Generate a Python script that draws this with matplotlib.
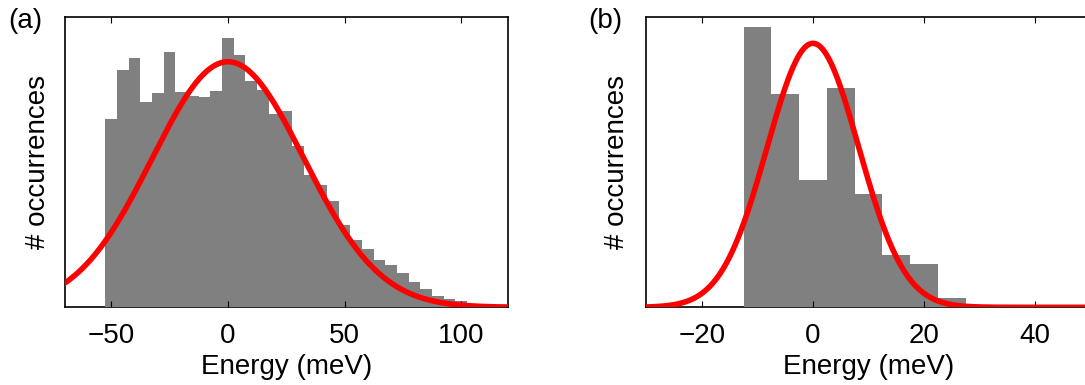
import numpy as np
import matplotlib
matplotlib.use("Agg")
import matplotlib.pyplot as plt

plt.rcParams['font.family'] = ['Liberation Sans', 'DejaVu Sans']
plt.rcParams['font.size'] = 20

# (a) histogram, 5 meV bins
centers_a = np.arange(-50, 120, 5)
counts_a = [188, 237, 249, 205, 214, 255, 215, 211, 210, 216,
            269, 252, 226, 217, 193, 196, 161, 132, 122, 106,
            82, 67, 58, 47, 42, 34, 25, 18, 11, 8,
            6, 3.5, 2, 1]
# gaussian fit for (a): amplitude, centre, sigma
fit_a = (245.6, 0.0, 32.5)

# (b) histogram, 5 meV bins
centers_b = [-10, -5, 0, 5, 10, 15, 20, 25]
counts_b = [280, 213, 127, 219, 113, 52, 43, 9]
fit_b = (264.0, 0.0, 8.25)

xlim_a = (-70, 120)
xticks_a = [-50, 0, 50, 100]
xlim_b = (-30, 50)
xticks_b = [-20, 0, 20, 40]


def gauss(x, amp, mu, sigma):
    return amp * np.exp(-(x - mu) ** 2 / (2 * sigma ** 2))


def draw_panel(ax, centers, counts, fit, xlim, xticks):
    ax.bar(centers, counts, width=5, color='#808080', edgecolor='none', zorder=1)
    x = np.linspace(xlim[0], xlim[1], 500)
    ax.plot(x, gauss(x, *fit), color='red', lw=4, zorder=2)

    ax.set_xlim(*xlim)
    ax.set_ylim(0, 290.3)
    ax.set_xticks(xticks)
    ax.set_xticklabels([str(t).replace('-', '\u2212') for t in xticks])
    ax.set_yticks([])
    ax.tick_params(axis='x', direction='in', top=True, length=4, width=0.8, pad=11)
    for s in ax.spines.values():
        s.set_zorder(0.5)
        s.set_linewidth(1.2)

    ax.set_xlabel('Energy (meV)', labelpad=4)
    ax.set_ylabel('# occurrences', va='center')


fig = plt.figure(figsize=(10.85, 3.85), dpi=100)
ax1 = fig.add_axes([0.0596, 0.2018, 0.4086, 0.754])
ax2 = fig.add_axes([0.5958, 0.2018, 0.4092, 0.754])

draw_panel(ax1, centers_a, counts_a, fit_a, xlim_a, xticks_a)
draw_panel(ax2, centers_b, counts_b, fit_b, xlim_b, xticks_b)
ax1.yaxis.set_label_coords(-0.06, 0.5)
ax2.yaxis.set_label_coords(-0.066, 0.5)

fig.text(25 / 1085, 1 - 21 / 385, '(a)', ha='center', va='center')
fig.text(605 / 1085, 1 - 21 / 385, '(b)', ha='center', va='center')

fig.savefig('out.png', dpi=100)
